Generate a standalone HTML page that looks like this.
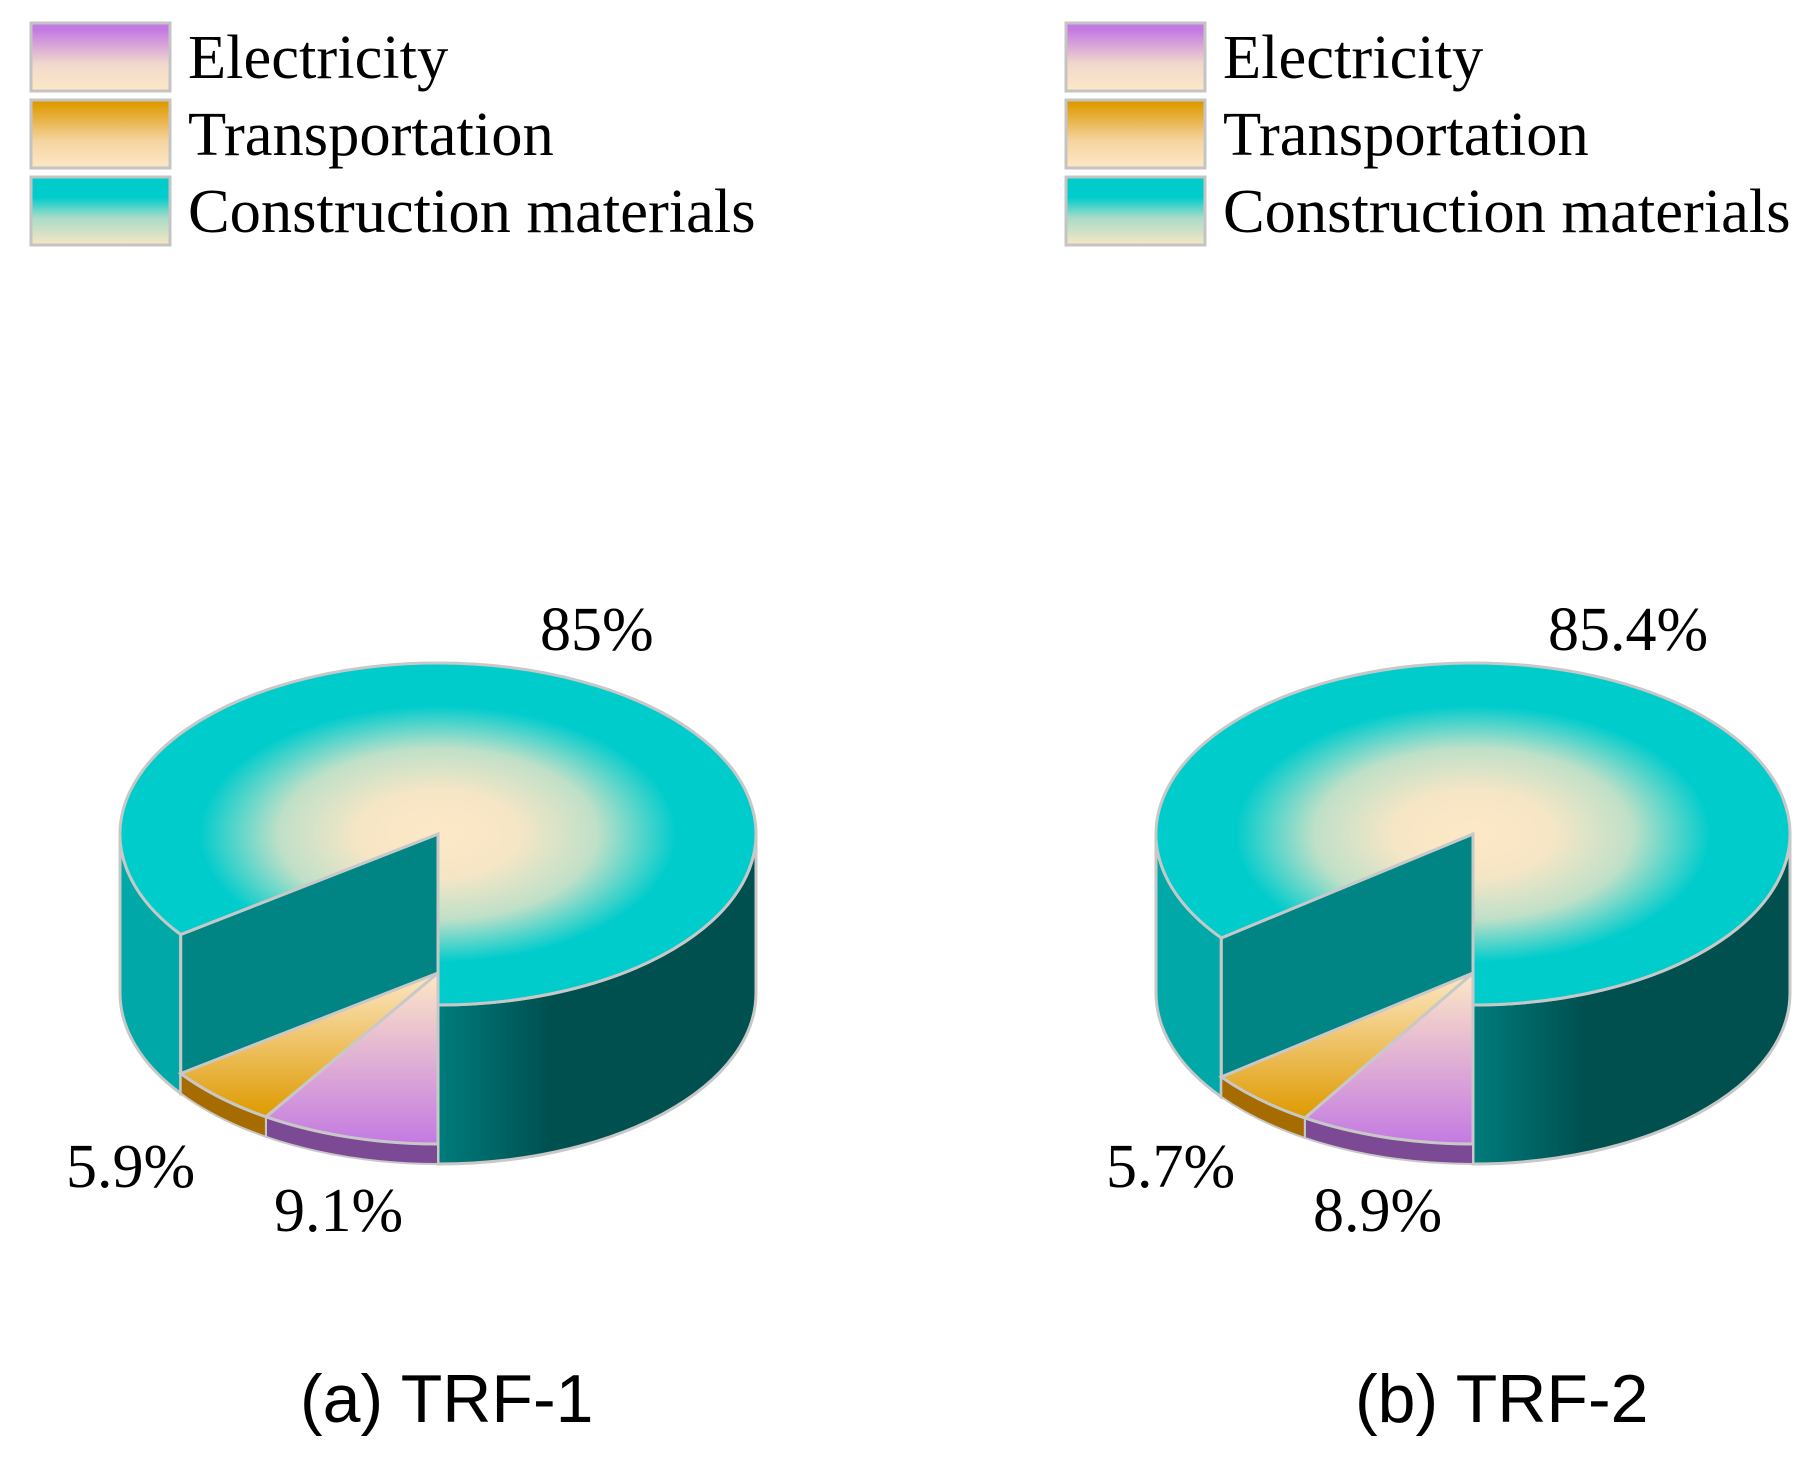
<!DOCTYPE html>
<html><head><meta charset="utf-8"><style>
html,body{margin:0;padding:0;background:#fff;}
svg{display:block;}
text{font-family:"Liberation Serif",serif;fill:#000;}
.sans{font-family:"Liberation Sans",sans-serif;}
</style></head><body>
<svg id="chart" width="1820" height="1460" viewBox="0 0 1820 1460" xmlns="http://www.w3.org/2000/svg">
<defs>
<linearGradient id="lgE" x1="0" y1="0" x2="0" y2="1"><stop offset="0.1" stop-color="#c47ae2"/><stop offset="0.6" stop-color="#f0d8cc"/><stop offset="1" stop-color="#fde8c6"/></linearGradient>
<linearGradient id="lgT" x1="0" y1="0" x2="0" y2="1"><stop offset="0.05" stop-color="#de9a00"/><stop offset="0.6" stop-color="#f5d4a0"/><stop offset="1" stop-color="#fde8c6"/></linearGradient>
<linearGradient id="lgC" x1="0" y1="0" x2="0" y2="1"><stop offset="0.3" stop-color="#00cccc"/><stop offset="0.6" stop-color="#a8dcc8"/><stop offset="1" stop-color="#f8e6c4"/></linearGradient>
<linearGradient id="topE" x1="0" y1="0" x2="0" y2="1"><stop offset="0" stop-color="#fde8c6"/><stop offset="1" stop-color="#c47ae2"/></linearGradient>
<linearGradient id="topT" x1="0" y1="0" x2="0" y2="1"><stop offset="0" stop-color="#fde8c6"/><stop offset="1" stop-color="#de9a00"/></linearGradient>
<radialGradient id="topC" cx="0.5" cy="0.5" r="0.5"><stop offset="0" stop-color="#fde8c6"/><stop offset="0.25" stop-color="#f6e6c6"/><stop offset="0.5" stop-color="#bfe0c8"/><stop offset="0.75" stop-color="#00cccc"/><stop offset="1" stop-color="#00cccc"/></radialGradient>
<linearGradient id="sideR" x1="0" y1="0" x2="1" y2="0"><stop offset="0" stop-color="#007c7c"/><stop offset="0.35" stop-color="#005050"/><stop offset="1" stop-color="#005050"/></linearGradient>
</defs>
<g id="legends"></g>
<g id="pies"></g>
</svg>
<script>
const categories = ["Electricity","Transportation","Construction materials"];
const valuesA = [9.1, 5.9, 85];
const valuesB = [8.9, 5.7, 85.4];
const labelsA = ["9.1%","5.9%","85%"];
const labelsB = ["8.9%","5.7%","85.4%"];
const titles = ["(a) TRF-1","(b) TRF-2"];

const NS="http://www.w3.org/2000/svg";
function mk(tag,attrs,parent){const e=document.createElementNS(NS,tag);for(const k in attrs)e.setAttribute(k,attrs[k]);parent.appendChild(e);return e;}
const legendFills=["url(#lgE)","url(#lgT)","url(#lgC)"];
const legG=document.getElementById('legends');
[31,1066].forEach((lx,pi)=>{
  categories.forEach((c,i)=>{
    const r=mk('rect',{x:lx,y:23+i*77,width:139,height:68,fill:legendFills[i],stroke:'#c4c4c4','stroke-width':3},legG);
    
    
    const t=mk('text',{x:lx+157,y:78+i*77,'font-size':62.5},legG);
    t.textContent=c;
    
    
  });
});

function drawPie(cx,cy,rx,ry,vals,labels,title,labelPos,titleX,idx){
  const g=mk('g',{},document.getElementById('pies'));
  
  
  const depth=159, sh=20, drop=depth-sh;
  const total=vals.reduce((a,b)=>a+b,0);
  const rad=d=>d*Math.PI/180;
  const P=(t,dy)=>[cx+rx*Math.cos(rad(t)),cy+dy+ry*Math.sin(rad(t))];
  const tE0=90, tE1=90+vals[0]/total*360, tT1=tE1+vals[1]/total*360;
  const st='#c8c8c8';
  let a=P(tT1,0),b=P(180,0),a2=P(tT1,depth),b2=P(180,depth);
  let p=mk('path',{d:`M${a} A${rx},${ry} 0 0 1 ${b} L${b2} A${rx},${ry} 0 0 0 ${a2} Z`,fill:'#00a8a8',stroke:st,'stroke-width':3},g);
  
  a=P(0,0);b=P(90,0);a2=P(0,depth);b2=P(90,depth);
  p=mk('path',{d:`M${b} A${rx},${ry} 0 0 0 ${a} L${a2} A${rx},${ry} 0 0 1 ${b2} Z`,fill:'url(#sideR)',stroke:st,'stroke-width':3},g);
  
  const L=P(tT1,0);
  p=mk('path',{d:`M${cx},${cy} L${L} L${L[0]},${L[1]+depth} L${cx},${cy+depth} Z`,fill:'#008484',stroke:st,'stroke-width':3},g);
  
  const B=P(90,0);
  p=mk('path',{d:`M${cx},${cy} L${L} A${rx},${ry} 0 1 1 ${B} Z`,fill:'url(#topC)',stroke:st,'stroke-width':3},g);
  
  const small=[[tE0,tE1,'url(#topE)','#7c4a94','electricity'],[tE1,tT1,'url(#topT)','#a66c00','transportation']];
  small.forEach(s=>{
    const s0=P(s[0],drop),s1=P(s[1],drop),s0b=P(s[0],depth),s1b=P(s[1],depth);
    let q=mk('path',{d:`M${s0} A${rx},${ry} 0 0 1 ${s1} L${s1b} A${rx},${ry} 0 0 0 ${s0b} Z`,fill:s[3],stroke:st,'stroke-width':2},g);
    
    q=mk('path',{d:`M${cx},${cy+drop} L${s0} A${rx},${ry} 0 0 1 ${s1} Z`,fill:s[2],stroke:st,'stroke-width':3},g);
    
  });
  const names=['label-electricity','label-transportation','label-construction'];
  labels.forEach((l,i)=>{
    const t=mk('text',{x:labelPos[i][0],y:labelPos[i][1],'font-size':62},g);
    t.textContent=l;
    
    
  });
  const t=mk('text',{x:titleX,y:1422,'font-size':68,class:'sans'},g);
  t.textContent=title;
  
  
}
drawPie(438,834,318,171,valuesA,labelsA,titles[0],[[274,1231],[66,1187],[540,650]],300,0);
drawPie(1473,834,317,171,valuesB,labelsB,titles[1],[[1313,1231],[1106,1187],[1548,650]],1355,1);
</script>
</body></html>
